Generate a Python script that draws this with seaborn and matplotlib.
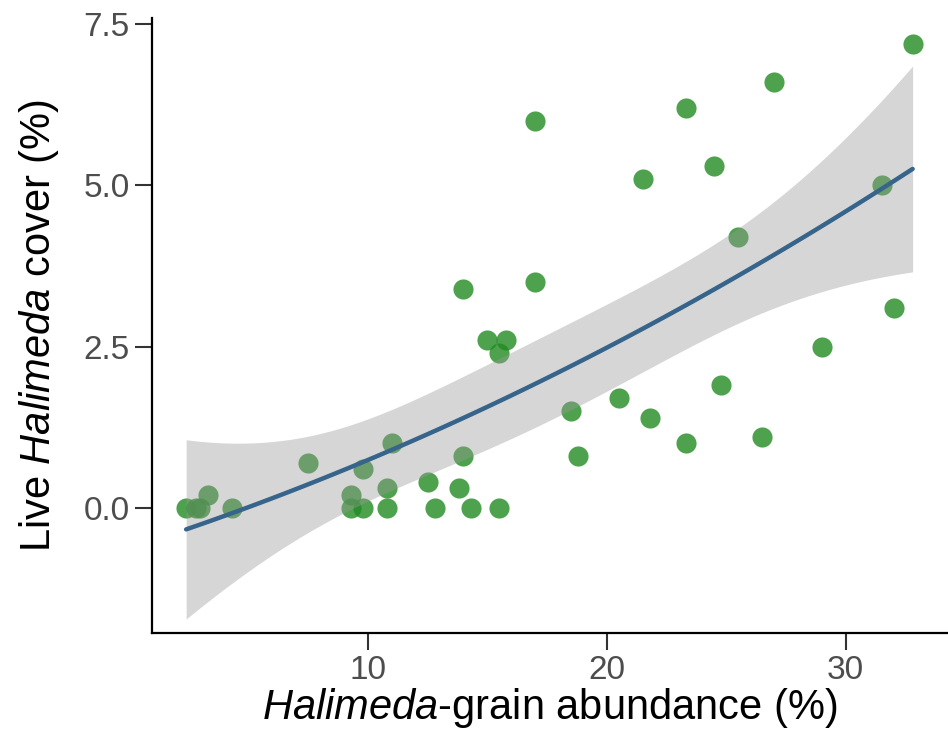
import numpy as np
import pandas as pd
import matplotlib
matplotlib.use("Agg")
import matplotlib.pyplot as plt
import seaborn as sns
from matplotlib.ticker import FormatStrFormatter

# Halimeda-grain abundance (%) vs live Halimeda cover (%)
grain_abundance = [2.4, 2.8, 3.0, 3.3, 4.3, 7.5, 9.3, 9.3, 9.8, 9.8,
                   10.8, 10.8, 11.0, 12.5, 12.8, 13.8, 14.0, 14.3, 14.0, 15.0,
                   15.5, 15.8, 15.5, 17.0, 17.0, 18.5, 18.8, 20.5, 21.5, 21.8,
                   23.3, 23.3, 24.5, 24.8, 25.5, 26.5, 27.0, 29.0, 31.5, 32.0,
                   32.8]
live_cover = [0.0, 0.0, 0.0, 0.2, 0.0, 0.7, 0.2, 0.0, 0.6, 0.0,
              0.3, 0.0, 1.0, 0.4, 0.0, 0.3, 0.8, 0.0, 3.4, 2.6,
              2.4, 2.6, 0.0, 6.0, 3.5, 1.5, 0.8, 1.7, 5.1, 1.4,
              6.2, 1.0, 5.3, 1.9, 4.2, 1.1, 6.6, 2.5, 5.0, 3.1,
              7.2]

df = pd.DataFrame({"grain": grain_abundance, "cover": live_cover})

# quadratic lm with the usual (analytic) 95% confidence band
x = df["grain"].to_numpy()
y = df["cover"].to_numpy()
X = np.vander(x, 3)
beta, *_ = np.linalg.lstsq(X, y, rcond=None)
resid = y - X @ beta
dof = len(x) - 3
s2 = resid @ resid / dof
XtX_inv = np.linalg.inv(X.T @ X)
t_crit = 2.024  # t(0.975, df=38)
grid = np.linspace(x.min(), x.max(), 200)
G = np.vander(grid, 3)
fit = G @ beta
se = np.sqrt(s2 * np.einsum("ij,jk,ik->i", G, XtX_inv, G))
lower, upper = fit - t_crit * se, fit + t_crit * se

sns.set_style("ticks")
plt.rcParams["font.family"] = ["Liberation Sans", "DejaVu Sans"]
plt.rcParams["mathtext.fontset"] = "custom"
plt.rcParams["mathtext.rm"] = "Liberation Sans"
plt.rcParams["mathtext.it"] = "Liberation Sans:italic"

fig = plt.figure(figsize=(9.48, 7.42), dpi=100)
ax = fig.add_axes([0.1603, 0.147, 0.8397, 0.829])

# points first, band and fit on top (like the ggplot layer order)
sns.scatterplot(data=df, x="grain", y="cover", ax=ax, color="#228B22",
                alpha=0.8, s=210, linewidth=0, zorder=2)

ax.fill_between(grid, lower, upper, color="#999999", alpha=0.4,
                linewidth=0, zorder=3)

sns.regplot(data=df, x="grain", y="cover", ax=ax, order=2, scatter=False,
            ci=None, color="#36648B",
            line_kws={"linewidth": 3.2, "zorder": 4})

ax.set_xlim(0.97, 34.28)
ax.set_ylim(-1.94, 7.6)
ax.set_xticks([10, 20, 30])
ax.set_yticks([0, 2.5, 5.0, 7.5])
ax.yaxis.set_major_formatter(FormatStrFormatter("%.1f"))

ax.tick_params(axis="both", labelsize=24, labelcolor="#4d4d4d", color="#333333",
               length=12, width=1.5, pad=4)

ax.set_xlabel("$\\it{Halimeda}$-grain abundance (%)", fontsize=30, color="black", labelpad=0)
ax.set_ylabel("Live $\\it{Halimeda}$ cover (%)", fontsize=30, color="black", labelpad=16)

sns.despine(ax=ax)
for side in ["left", "bottom"]:
    ax.spines[side].set_linewidth(1.6)
    ax.spines[side].set_color("black")

fig.savefig("out.png", dpi=100)
